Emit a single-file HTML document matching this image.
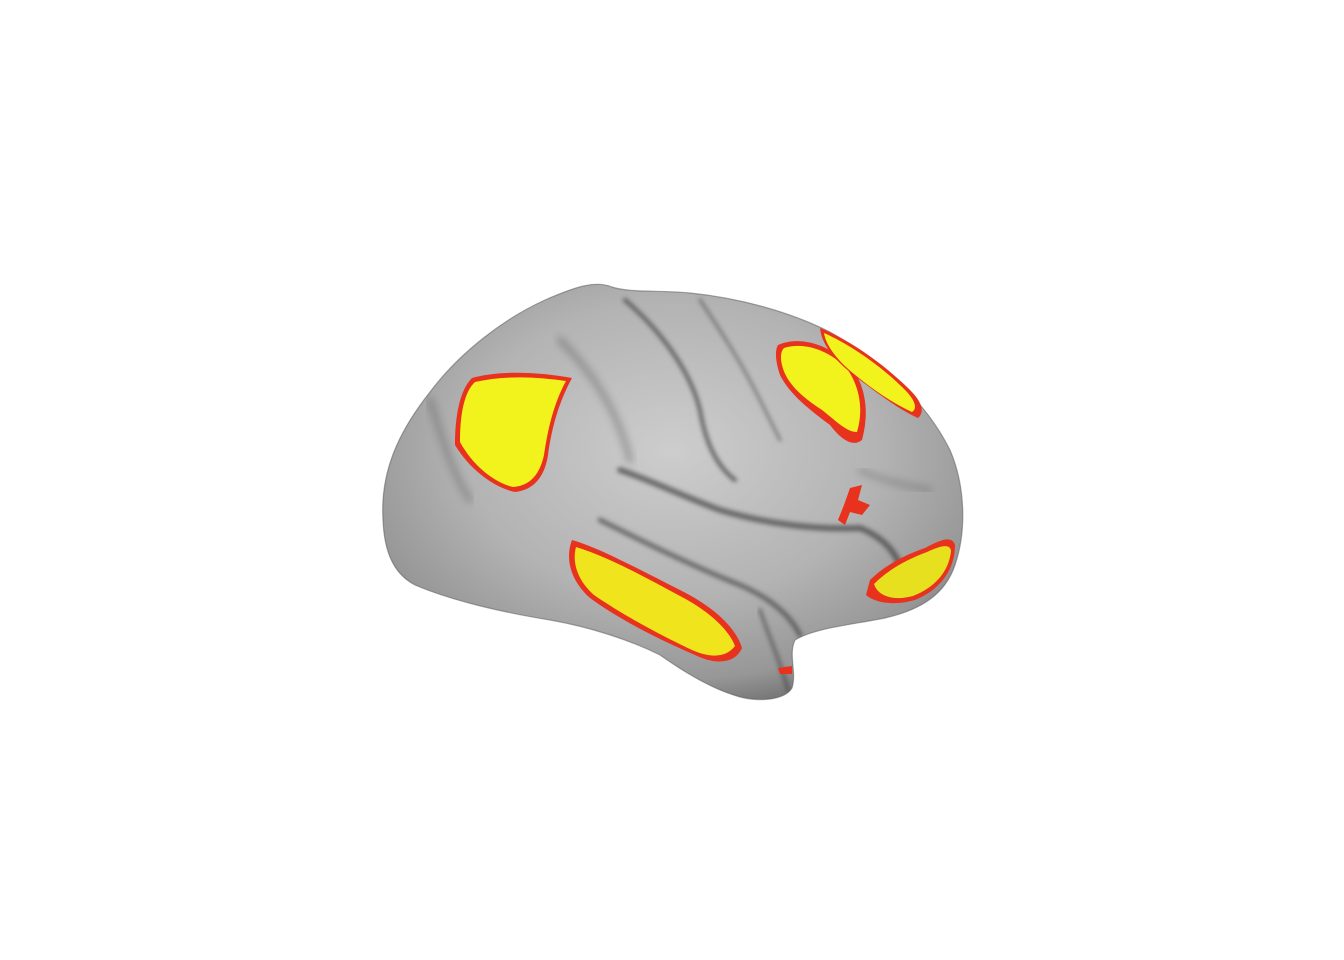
<!DOCTYPE html>
<html><head><meta charset="utf-8"><style>
html,body{margin:0;padding:0;background:#fff;width:1344px;height:960px;overflow:hidden}
svg{display:block}
</style></head><body>
<svg width="1344" height="960" viewBox="0 0 1344 960">
<defs>
<radialGradient id="shade" cx="0.5" cy="0.4" r="0.65">
<stop offset="0" stop-color="#cdcdcd"/>
<stop offset="0.55" stop-color="#b3b3b3"/>
<stop offset="0.85" stop-color="#979797"/>
<stop offset="1" stop-color="#6a6a6a"/>
</radialGradient>
<filter id="blur4"><feGaussianBlur stdDeviation="4"/></filter>
<filter id="blur2"><feGaussianBlur stdDeviation="2"/></filter>
<clipPath id="brainClip"><path id="outline" d="M383,520 C380,470 400,430 430,392 C460,352 505,318 545,300 C575,287 595,280 612,287 C630,293 660,290 690,293 C740,298 790,312 830,332 C880,360 925,400 950,450 C965,485 967,530 955,565 C945,595 920,610 885,618 C850,625 815,628 795,640 C788,655 797,672 792,688 C785,700 760,702 740,697 C715,690 690,676 660,655 C630,640 590,627 550,620 C500,612 450,600 415,585 C390,572 384,545 383,520 Z"/></clipPath>
</defs>
<g>
<use href="#outline" fill="url(#shade)"/>
<g clip-path="url(#brainClip)">
<g fill="none" stroke="#3a3a3a" stroke-linecap="round">
<path d="M625,300 C660,330 690,370 700,410 C705,440 715,465 735,480" stroke-width="4" filter="url(#blur2)" opacity="0.7"/>
<path d="M700,300 C720,330 740,360 760,400 C770,420 775,430 780,440" stroke-width="3" filter="url(#blur2)" opacity="0.5"/>
<path d="M560,340 C600,380 620,420 630,460" stroke-width="6" filter="url(#blur4)" opacity="0.35"/>
<path d="M620,470 C650,480 680,495 720,510 C770,525 820,530 860,528 C890,540 900,560 905,580" stroke-width="6" filter="url(#blur2)" opacity="0.65"/>
<path d="M600,520 C640,540 690,565 740,585 C770,598 790,615 800,635" stroke-width="5" filter="url(#blur2)" opacity="0.6"/>
<path d="M760,610 C770,640 780,660 788,690" stroke-width="4" filter="url(#blur2)" opacity="0.5"/>
<path d="M430,400 C440,430 450,470 470,500" stroke-width="6" filter="url(#blur4)" opacity="0.3"/>
<path d="M860,470 C880,480 905,485 930,490" stroke-width="4" filter="url(#blur4)" opacity="0.35"/>
</g>
</g>
<use href="#outline" fill="none" stroke="#555" stroke-width="1.2" opacity="0.5"/>
</g>
<g>
<g>
<path d="M472,378 C500,370 540,372 572,378 C560,400 552,425 548,455 C545,475 535,490 515,492 C495,488 470,470 455,445 C455,415 460,390 472,378 Z" fill="#e8321e"/>
<path d="M475,382 C505,375 538,377 566,381 C554,403 548,428 544,455 C540,474 530,486 513,487 C495,483 473,466 460,442 C460,415 464,392 475,382 Z" fill="#f2f21c"/>
</g>
<g>
<path d="M572,540 C600,548 640,570 680,590 C710,605 735,625 742,648 C735,664 715,665 695,655 C660,640 620,620 590,598 C570,580 565,558 572,540 Z" fill="#e8321e"/>
<path d="M576,547 C606,556 643,576 680,596 C707,610 728,628 735,646 C726,658 710,658 692,650 C660,635 623,615 594,595 C577,580 572,562 576,547 Z" fill="#f0e41c"/>
</g>
<g>
<path d="M778,345 C800,335 830,345 850,365 C865,385 870,410 862,440 C852,448 840,438 830,425 C810,410 790,395 780,375 C775,360 775,350 778,345 Z" fill="#e8321e"/>
<path d="M784,348 C806,341 832,352 848,370 C861,390 863,412 857,432 C846,432 835,420 822,410 C802,397 786,383 782,365 C780,357 781,351 784,348 Z" fill="#f2f21c"/>
</g>
<g>
<path d="M820,328 C850,340 885,365 910,390 C922,402 925,412 918,418 C900,410 880,395 860,380 C840,365 822,348 820,328 Z" fill="#e8321e"/>
<path d="M824,333 C853,346 885,369 907,392 C916,402 917,409 912,412 C894,404 872,389 854,374 C838,361 826,346 824,333 Z" fill="#f2f21c"/>
</g>
<g>
<path d="M870,580 C885,565 905,555 925,548 C940,540 952,535 955,545 C955,570 940,590 915,600 C895,606 875,603 866,595 Z" fill="#e8321e"/>
<path d="M874,584 C889,569 908,559 927,552 C940,546 950,543 951,551 C949,572 934,588 913,596 C895,601 878,597 874,584 Z" fill="#e6e01e"/>
</g>
<path d="M850,488 L862,485 L858,500 L870,505 L862,515 L850,512 L845,525 L838,520 L844,505 Z" fill="#e8321e"/>
<path d="M778,668 L792,666 L792,674 L780,674 Z" fill="#e8321e"/>
</g>
</svg>
</body></html>
